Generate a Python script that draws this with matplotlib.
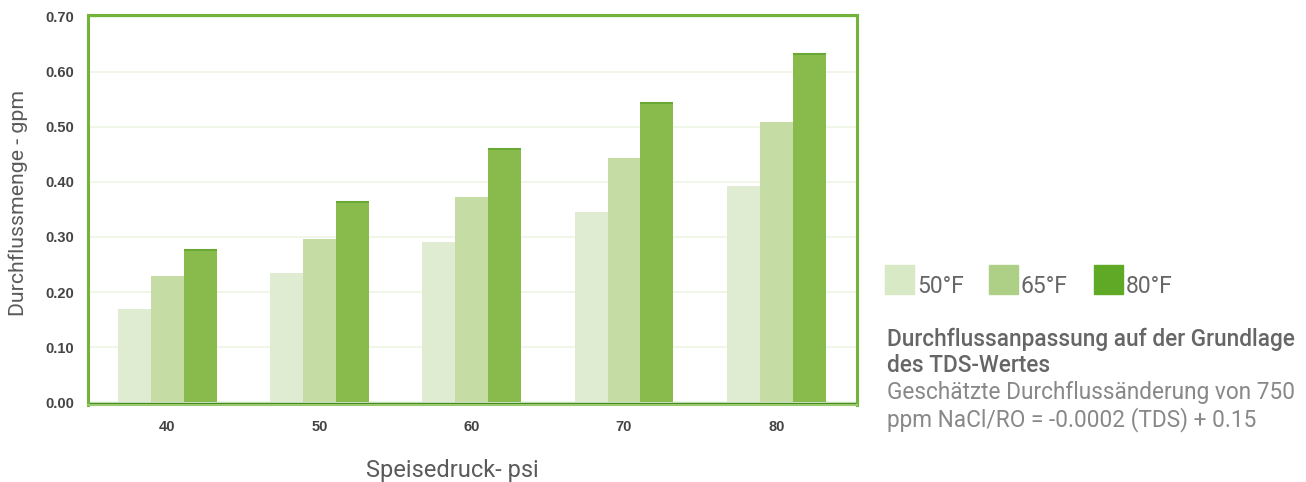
import matplotlib
matplotlib.use("Agg")
import matplotlib.pyplot as plt
import numpy as np
from matplotlib.patches import Rectangle

categories = ["40", "50", "60", "70", "80"]
series_names = ["50°F", "65°F", "80°F"]
v50 = [0.170, 0.235, 0.291, 0.346, 0.392]
v65 = [0.229, 0.296, 0.372, 0.443, 0.509]
v80 = [0.276, 0.363, 0.459, 0.543, 0.632]
yticks = [0.00, 0.10, 0.20, 0.30, 0.40, 0.50, 0.60, 0.70]
ytick_labels = ["0.00", "0.10", "0.20", "0.30", "0.40", "0.50", "0.60", "0.70"]

bar_colors = ["#dfecd1", "#c5dca5", "#88bb4c"]
legend_colors = ["#d8e9c6", "#aed086", "#5fa926"]
frame_color = "#72b43a"

W, H = 1306, 482
fig = plt.figure(figsize=(W / 100, H / 100), dpi=100)
ax = fig.add_axes([88 / W, 1 - 405 / H, (857 - 88) / W, (405 - 15) / H])

x = np.arange(len(categories))
bw = 0.216
for i, vals in enumerate([v50, v65, v80]):
    ax.bar(x + (i - 1) * bw, vals, width=bw, color=bar_colors[i], zorder=3,
           linewidth=0)
# darker top edges on the darkest bars
for xi, v in zip(x, v80):
    ax.plot([xi + bw - bw / 2, xi + bw + bw / 2], [v, v], color="#6aa836",
            lw=1.5, zorder=4, solid_capstyle="butt")

ax.set_xlim(-0.52, 4.53)
ax.set_ylim(-0.005, 0.703)
ax.axhline(-0.003, color="#3f8a1e", lw=2.5, zorder=2)
ax.set_yticks(yticks)
ax.set_yticklabels(ytick_labels)
ax.set_xticks(x)
ax.set_xticklabels(categories)
ax.yaxis.grid(True, color="#eef5e4", lw=1.2, zorder=0)
ax.set_axisbelow(True)
for s in ["left", "top", "right"]:
    ax.spines[s].set_color(frame_color)
    ax.spines[s].set_linewidth(2.2)
ax.spines["bottom"].set_color("#9bc96e")
ax.spines["bottom"].set_linewidth(1.5)
ax.tick_params(length=0, pad=10, labelsize=10.5, labelcolor="#444444")
for lab in ax.get_xticklabels() + ax.get_yticklabels():
    lab.set_fontfamily("Liberation Sans")
    lab.set_fontweight("bold")
ax.tick_params(axis="x", pad=11)

fig.text(18 / W, 1 - 203 / H, "Durchflussmenge - gpm", rotation=90,
         ha="center", va="center", fontsize=15.3, color="#5a5a5a",
         family="Roboto")
fig.text(452 / W, 1 - 477 / H, "Speisedruck- psi", ha="center",
         va="baseline", fontsize=17, color="#5a5a5a", family="Roboto")

# legend
sw_x = [885, 989, 1094]
for xs, c, name in zip(sw_x, legend_colors, series_names):
    fig.patches.append(Rectangle((xs / W, 1 - 294 / H), 29 / W, 29 / H,
                                 transform=fig.transFigure, color=c))
    fig.text((xs + 32) / W, 1 - 293 / H, name, ha="left", va="baseline",
             fontsize=16.5, color="#666666", family="Roboto")

fig.text(887 / W, 1 - 346 / H, "Durchflussanpassung auf der Grundlage",
         ha="left", va="baseline", fontsize=16.3, color="#666666",
         family="Roboto", fontweight="medium")
fig.text(887 / W, 1 - 372 / H, "des TDS-Wertes", ha="left", va="baseline",
         fontsize=16.3, color="#666666", family="Roboto", fontweight="medium")
fig.text(887 / W, 1 - 399 / H, "Geschätzte Durchflussänderung von 750",
         ha="left", va="baseline", fontsize=16.3, color="#888888",
         family="Roboto")
fig.text(887 / W, 1 - 426 / H, "ppm NaCl/RO = -0.0002 (TDS) + 0.15",
         ha="left", va="baseline", fontsize=16.3, color="#888888",
         family="Roboto")

fig.savefig("out.png", dpi=100)
